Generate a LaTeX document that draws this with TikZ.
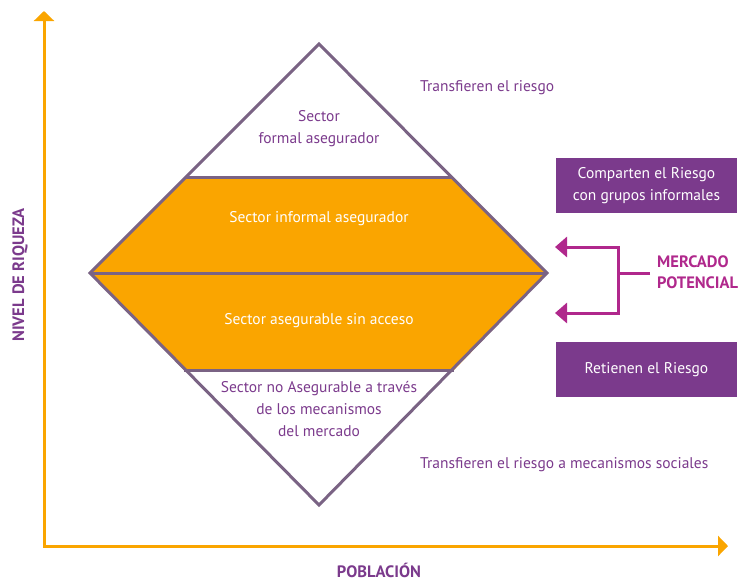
\documentclass[tikz,border=0pt]{standalone}
\usepackage{fontspec}
\setmainfont{PT Sans}
\usetikzlibrary{arrows.meta}
\definecolor{orng}{HTML}{FAA500}
\definecolor{edge}{HTML}{7A6384}
\definecolor{purp}{HTML}{7B3A8C}
\definecolor{boxc}{HTML}{7B3A8C}
\definecolor{mag}{HTML}{B0288C}
\begin{document}
\begin{tikzpicture}[x=1pt,y=-1pt,
  axis/.style={draw=orng,line width=3pt},
  edgeline/.style={draw=edge,line width=3pt,line join=miter},
  ptxt/.style={text=purp,align=center,font=\fontsize{15.5}{22}\selectfont,inner sep=0pt},
  wtxt/.style={text=white,align=center,font=\fontsize{15.5}{22}\selectfont,inner sep=0pt},
  pbox/.style={fill=boxc,text=white,align=center,font=\fontsize{15.5}{22}\selectfont,minimum width=181pt,minimum height=55pt,inner sep=0pt},
  brk/.style={draw=mag,line width=3pt},
  bold/.style={font=\fontsize{16.5}{21}\selectfont\bfseries,text=purp,inner sep=0pt}
]
\useasboundingbox (0,0) rectangle (743,582);
% axes
\coordinate (O) at (44,546);
\coordinate (ytip) at (44,11);
\coordinate (xtip) at (728,546);
\draw[axis,{Triangle[width=20pt,length=10pt]}-{Triangle[width=20pt,length=10pt]}] (ytip) -- (O) -- (xtip);
\node[bold,rotate=90] (ny) at (20,275) {NIVEL DE RIQUEZA};
\node[bold] (nx) at (379,570) {POBLACIÓN};
% diamond
\coordinate (T) at (319,44);
\coordinate (L) at (90,273);
\coordinate (R) at (547,273);
\coordinate (B) at (319,505);
\coordinate (UL) at (185,177);
\coordinate (UR) at (453,177);
\coordinate (LL) at (184,370);
\coordinate (LR) at (454,370);
\fill[orng] (UL) -- (UR) -- (R) -- (LR) -- (LL) -- (L) -- cycle;
\draw[edgeline] (T) -- (R) -- (B) -- (L) -- cycle;
\draw[edgeline] (UL) -- (UR);
\draw[edgeline] (L) -- (R);
\draw[edgeline] (LL) -- (LR);
\node[ptxt] (sf) at (319,129) {Sector\\formal asegurador};
\node[wtxt] (si) at (319,219) {Sector informal asegurador};
\node[wtxt] (sa) at (319,321) {Sector asegurable sin acceso};
\node[ptxt] (sn) at (319,409) {Sector no Asegurable a través\\de los mecanismos\\del mercado};
% right side
\node[ptxt,anchor=west] (t1) at (420,88) {Transfieren el riesgo};
\node[ptxt,anchor=west] (t2) at (420,465) {Transfieren el riesgo a mecanismos sociales};
\node[pbox] (comp) at (646.5,185.5) {Comparten el Riesgo\\con grupos informales};
\node[pbox] (ret) at (646.5,369.5) {Retienen el Riesgo};
\node[font=\fontsize{16.5}{21}\selectfont\bfseries,text=mag,align=left,anchor=west,inner sep=0pt] (mp) at (657,272) {MERCADO\\POTENCIAL};
\coordinate (a1) at (555,247);
\coordinate (a2) at (555,313);
\coordinate (j) at (618,273);
\coordinate (ms) at (650,273);
\draw[brk,{Triangle[width=20pt,length=12pt]}-{Triangle[width=20pt,length=12pt]}] (a1) -- (618,247) -- (618,313) -- (a2);
\draw[brk] (ms) -- (j);
\end{tikzpicture}
\end{document}
